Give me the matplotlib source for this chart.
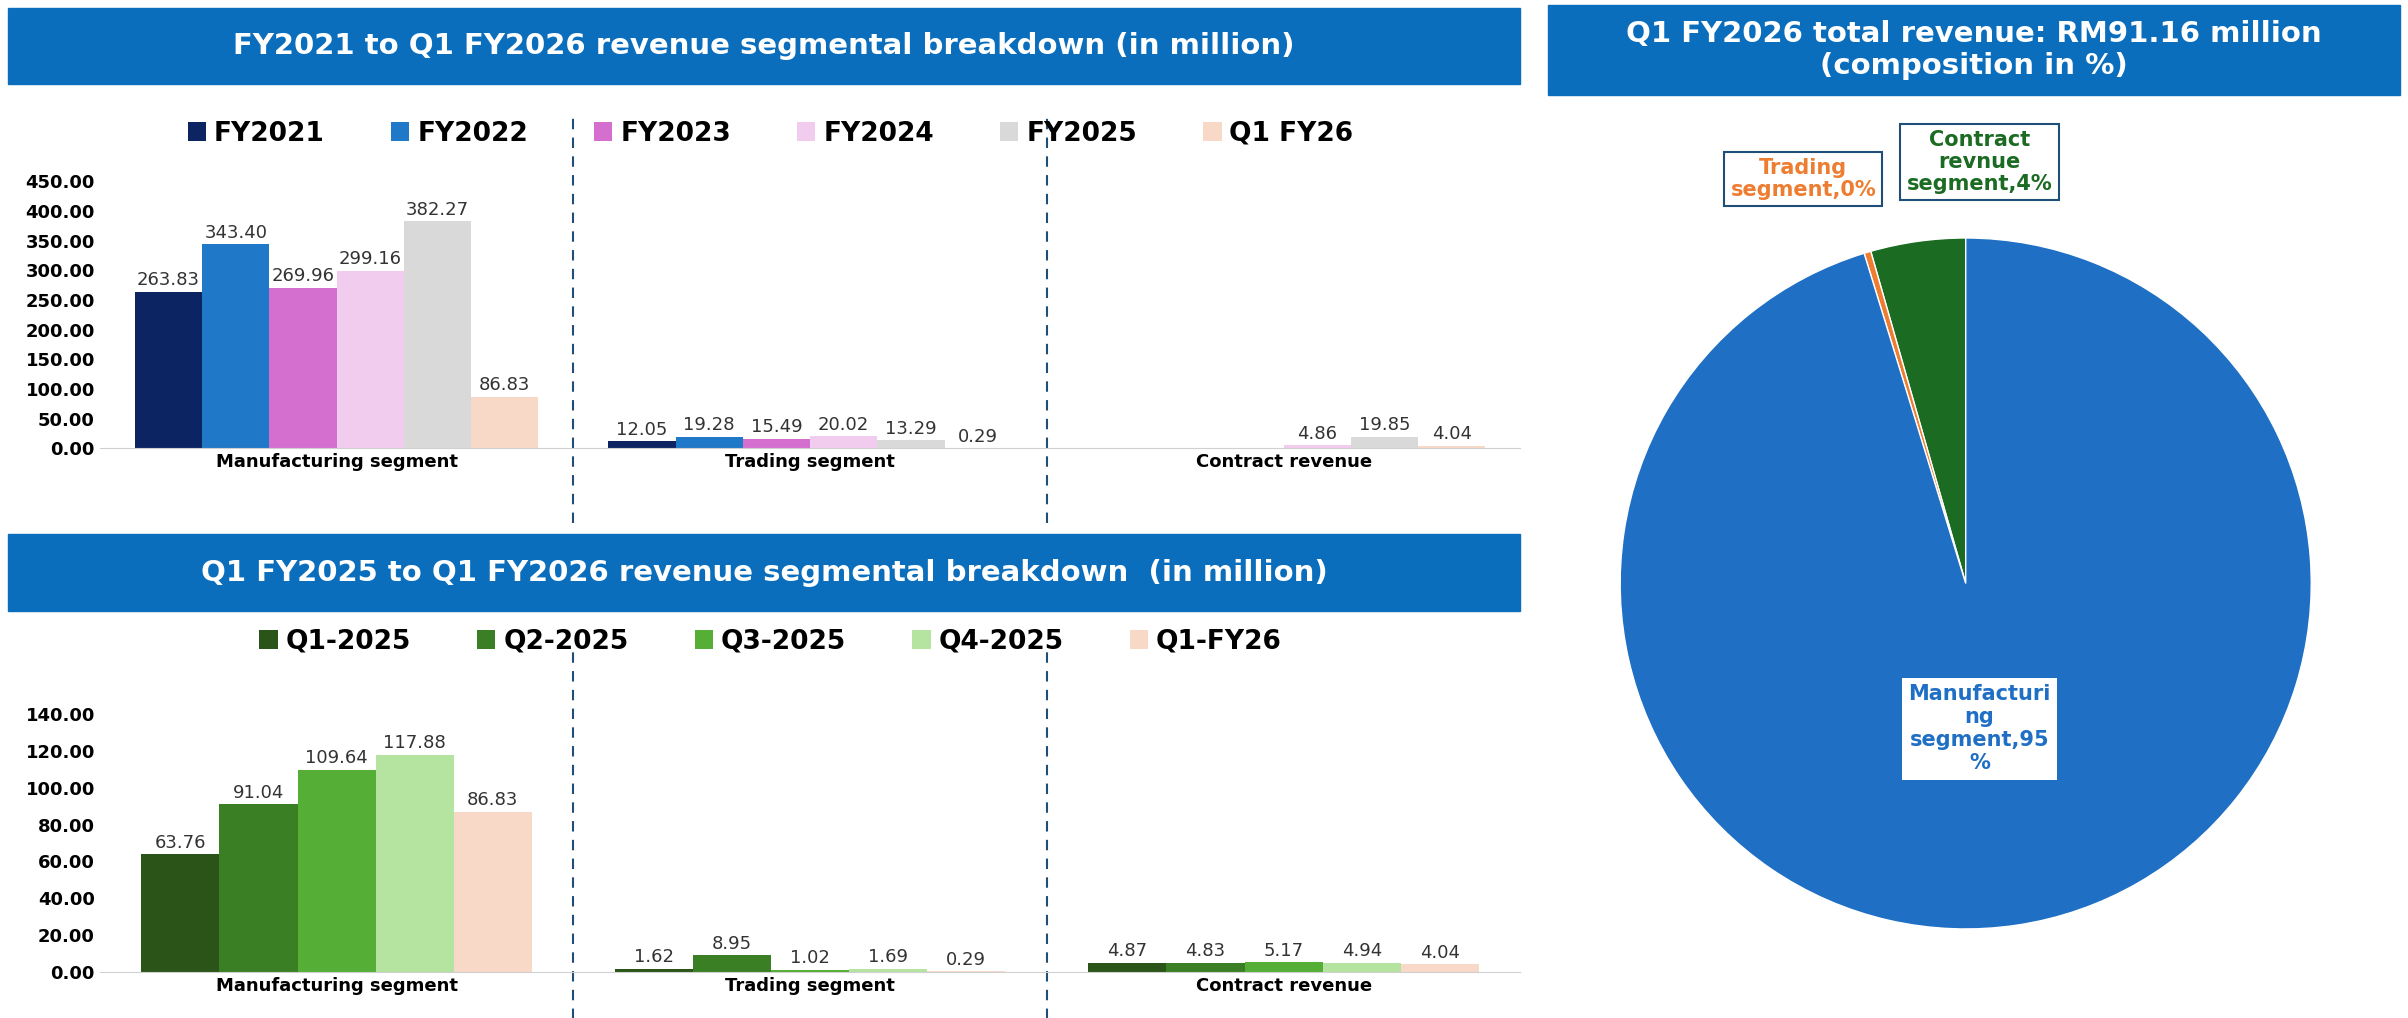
import matplotlib.pyplot as plt
import matplotlib.patches as mpatches
import numpy as np

segments = ['Manufacturing segment', 'Trading segment', 'Contract revenue']

fy_labels = ['FY2021', 'FY2022', 'FY2023', 'FY2024', 'FY2025', 'Q1 FY26']
fy_colors = ['#0D2463', '#1F78C8', '#D46FD0', '#F2CCEE', '#D9D9D9', '#F8D9C8']
fy_manu = [263.83, 343.40, 269.96, 299.16, 382.27, 86.83]
fy_trad = [12.05, 19.28, 15.49, 20.02, 13.29, 0.29]
fy_cont = [0, 0, 0, 4.86, 19.85, 4.04]

q_labels = ['Q1-2025', 'Q2-2025', 'Q3-2025', 'Q4-2025', 'Q1-FY26']
q_colors = ['#2B5518', '#3B7F24', '#55AE35', '#B5E3A0', '#F8D9C8']
q_manu = [63.76, 91.04, 109.64, 117.88, 86.83]
q_trad = [1.62, 8.95, 1.02, 1.69, 0.29]
q_cont = [4.87, 4.83, 5.17, 4.94, 4.04]

pie_labels = ['Contract\nrevnue\nsegment,4%', 'Trading\nsegment,0%', 'Manufacturi\nng\nsegment,95\n%']
pie_values = [4.04, 0.29, 86.83]
pie_colors = ['#1B6B23', '#ED7D31', '#1F6FC5']

BLUE = '#0A6EBD'
fig = plt.figure(figsize=(24.08, 10.18), dpi=100)
W, H = 1568, 663


def header(x0, y0, x1, y1, text):
    fig.patches.append(mpatches.Rectangle((x0 / W, 1 - y1 / H), (x1 - x0) / W, (y1 - y0) / H,
                                          transform=fig.transFigure, color=BLUE, zorder=0))
    fig.text((x0 + x1) / 2 / W, 1 - (y0 + y1) / 2 / H, text, color='white', fontsize=21,
             fontweight='bold', ha='center', va='center')


header(5, 5, 990, 55, 'FY2021 to Q1 FY2026 revenue segmental breakdown (in million)')
header(5, 348, 990, 398, 'Q1 FY2025 to Q1 FY2026 revenue segmental breakdown  (in million)')
header(1008, 3, 1563, 62, 'Q1 FY2026 total revenue: RM91.16 million\n(composition in %)')


def bars(rect, series, labels, colors, width, ymax, ystep, legend_y):
    ax = fig.add_axes(rect)
    x = np.arange(3)
    n = len(labels)
    handles = []
    for i in range(n):
        vals = [s[i] for s in series]
        pos = x + (i - (n - 1) / 2) * width
        b = ax.bar(pos, vals, width, color=colors[i], label=labels[i])
        handles.append(b)
        for p, v in zip(pos, vals):
            if v > 0:
                ax.text(p, v + ymax * 0.01, f'{v:.2f}', ha='center', va='bottom', fontsize=13, color='#333333')
    ax.set_xlim(-0.5, 2.5)
    ax.set_ylim(0, ymax)
    ax.set_yticks(np.arange(0, ymax + 0.01, ystep))
    ax.set_yticklabels([f'{v:.2f}' for v in np.arange(0, ymax + 0.01, ystep)], fontsize=13, fontweight='bold')
    ax.set_xticks(x)
    ax.set_xticklabels(segments, fontsize=13, fontweight='bold')
    ax.tick_params(length=0)
    for s in ['top', 'right', 'left']:
        ax.spines[s].set_visible(False)
    ax.spines['bottom'].set_color('#D0D0D0')
    for xv in [0.5, 1.5]:
        ax.axvline(xv, ymin=-0.28, ymax=1.25, color='#1F4E79', ls=(0, (5, 4)), lw=1.5, clip_on=False)
    fig.legend(handles=handles, labels=labels, loc='center', bbox_to_anchor=(0.32, legend_y), ncol=n,
               frameon=False, prop={'size': 19, 'weight': 'bold'}, handlelength=0.7, handleheight=0.7,
               columnspacing=2.5, handletextpad=0.3)
    return ax


bars([65 / W, 1 - 292 / H, 925 / W, 174 / H], [fy_manu, fy_trad, fy_cont], fy_labels, fy_colors,
     0.142, 450, 50, 1 - 87 / H)
bars([65 / W, 1 - 633 / H, 925 / W, 168 / H], [q_manu, q_trad, q_cont], q_labels, q_colors,
     0.165, 140, 20, 1 - 418 / H)

pax = fig.add_axes([1055 / W, 1 - 605 / H, 450 / W, 450 / H])
pax.pie(pie_values, colors=pie_colors, startangle=90, counterclock=True,
        wedgeprops={'edgecolor': 'white', 'linewidth': 1})
pax.set_xlim(-1, 1)
pax.set_ylim(-1, 1)
pax.set_aspect('auto')
box = dict(boxstyle='square,pad=0.3', fc='white', ec='#1F4E79', lw=1.5)
pax.text(0.04, 1.22, pie_labels[0], fontsize=15, fontweight='bold', color='#1B6B23',
         ha='center', va='center', bbox=box, clip_on=False, linespacing=1.1)
pax.text(-0.47, 1.17, pie_labels[1], fontsize=15, fontweight='bold', color='#ED7D31',
         ha='center', va='center', bbox=box, clip_on=False, linespacing=1.1)
pax.text(0.04, -0.42, pie_labels[2], fontsize=15, fontweight='bold', color='#1F6FC5',
         ha='center', va='center', bbox=dict(boxstyle='square,pad=0.3', fc='white', ec='none'),
         linespacing=1.2)

fig.savefig('out.png', dpi=100)
